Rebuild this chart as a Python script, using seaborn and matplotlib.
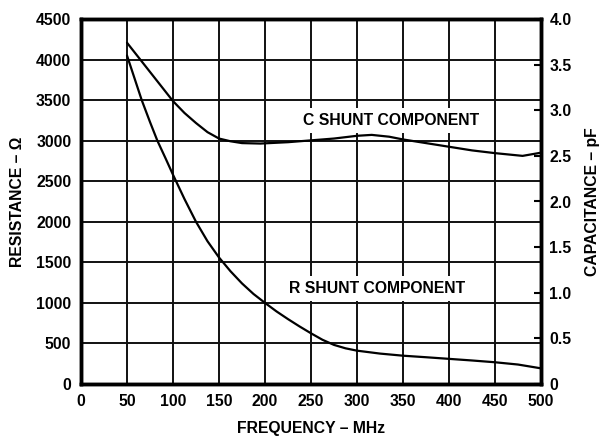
import matplotlib
matplotlib.use("Agg")
import matplotlib.pyplot as plt
import seaborn as sns
import pandas as pd

freq_r = [50, 58, 66, 75, 83, 92, 100, 112.5, 125, 137.5, 150, 162.5, 175, 187.5, 200,
          212.5, 225, 237.5, 250, 262.5, 275, 287.5, 300, 325, 350, 375, 400, 425, 450, 475, 500]
r_shunt = [4050, 3775, 3500, 3230, 3000, 2780, 2580, 2280, 2000, 1760, 1560, 1390, 1240, 1110, 1000,
           895, 800, 710, 625, 545, 482, 440, 411, 375, 349, 330, 310, 290, 268, 240, 193]

freq_c = [50, 62.5, 75, 87.5, 100, 112.5, 125, 137.5, 150, 162.5, 175, 195, 225, 250, 275,
          300, 316, 335, 350, 375, 400, 425, 450, 480, 500]
c_shunt = [3.74, 3.58, 3.42, 3.26, 3.10, 2.97, 2.86, 2.76, 2.69, 2.66, 2.64, 2.635, 2.65, 2.67, 2.69,
           2.72, 2.73, 2.71, 2.68, 2.64, 2.60, 2.56, 2.53, 2.50, 2.535]

x_ticks = [0, 50, 100, 150, 200, 250, 300, 350, 400, 450, 500]
left_ticks = [0, 500, 1000, 1500, 2000, 2500, 3000, 3500, 4000, 4500]
right_ticks = [0, 0.5, 1.0, 1.5, 2.0, 2.5, 3.0, 3.5, 4.0]
right_labels = ["0", "0.5", "1.0", "1.5", "2.0", "2.5", "3.0", "3.5", "4.0"]

sns.set_style("white")
plt.rcParams['font.family'] = ['Liberation Sans', 'DejaVu Sans']
plt.rcParams['font.weight'] = 'bold'
plt.rcParams['text.color'] = 'black'
plt.rcParams['axes.labelcolor'] = 'black'
plt.rcParams['xtick.color'] = 'black'
plt.rcParams['ytick.color'] = 'black'

FS = 11.3

fig = plt.figure(figsize=(5.99, 4.36), dpi=100)
ax = fig.add_axes([81/599, 1 - 384/436, 460/599, 365/436])

df_r = pd.DataFrame({"f": freq_r, "r": r_shunt})
df_c = pd.DataFrame({"f": freq_c, "c": c_shunt})

sns.lineplot(data=df_r, x="f", y="r", ax=ax, color="black", linewidth=1.6)
ax.set_xlim(0, 500)
ax.set_ylim(0, 4500)
ax.set_xticks(x_ticks)
ax.set_yticks(left_ticks)
ax.grid(True, color="#111111", linewidth=1.4)
ax.set_axisbelow(True)
ax.tick_params(axis="both", length=0, pad=7, labelsize=FS, colors="black")
for lab in ax.get_xticklabels() + ax.get_yticklabels():
    lab.set_fontweight("bold")
ax.set_xlabel("FREQUENCY – MHz", fontsize=FS, fontweight="bold", labelpad=9, color="black")
ax.set_ylabel("RESISTANCE – Ω", fontsize=FS, fontweight="bold", labelpad=8, color="black")
for s in ax.spines.values():
    s.set_linewidth(2.5)
    s.set_color("black")

ax2 = ax.twinx()
sns.lineplot(data=df_c, x="f", y="c", ax=ax2, color="black", linewidth=1.6)
ax2.set_ylim(0, 4.0)
ax2.set_yticks(right_ticks)
ax2.set_yticklabels(right_labels)
ax2.tick_params(axis="y", direction="in", length=5, width=1.5, pad=6, labelsize=FS, colors="black")
for lab in ax2.get_yticklabels():
    lab.set_fontweight("bold")
ax2.set_ylabel("CAPACITANCE – pF", fontsize=FS, fontweight="bold", labelpad=10, color="black")
ax2.grid(False)
for s in ax2.spines.values():
    s.set_linewidth(2.5)
    s.set_color("black")

box = dict(facecolor="white", edgecolor="none", pad=3.5)
ax.text(241, 3245, "C SHUNT COMPONENT", fontsize=FS, fontweight="bold", va="center", ha="left",
        color="black", bbox=box, zorder=5)
ax.text(226, 1180, "R SHUNT COMPONENT", fontsize=FS, fontweight="bold", va="center", ha="left",
        color="black", bbox=box, zorder=5)

fig.savefig("out.png", dpi=100)
